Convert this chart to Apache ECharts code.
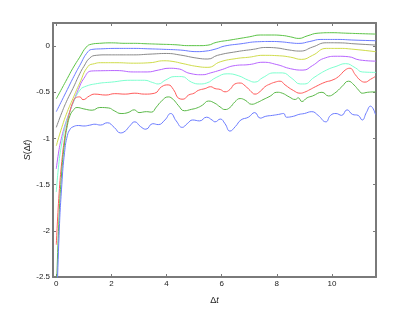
<!DOCTYPE html>
<html><head><meta charset="utf-8">
<script src="https://cdn.jsdelivr.net/npm/echarts@6/dist/echarts.min.js"></script>
<style>html,body{margin:0;padding:0;background:#fff}#c{width:415px;height:312px}</style>
</head><body><div id="c"></div>
<script>
const xTicks = [0, 2, 4, 6, 8, 10];
const yTicks = [-2.5, -2, -1.5, -1, -0.5, 0];

const green1 = [[0,-0.57],[0.2,-0.46],[0.4,-0.35],[0.6,-0.24],[0.85,-0.12],[1.09,-0.01],[1.27,0.02],[1.57,0.03],[2.0,0.035],[2.5,0.03],[2.8,0.03],[3.3,0.025],[3.8,0.02],[4.3,0.015],[4.8,0.005],[5.2,0.005],[5.5,0.01],[5.8,0.04],[6.3,0.065],[6.7,0.085],[7.0,0.10],[7.4,0.12],[7.8,0.12],[8.2,0.115],[8.5,0.10],[8.8,0.083],[9.1,0.11],[9.5,0.14],[10.0,0.145],[10.5,0.14],[11.0,0.135],[11.6,0.13]];
const blue1 = [[0,-0.71],[0.2,-0.59],[0.4,-0.47],[0.6,-0.35],[0.85,-0.21],[1.15,-0.06],[1.33,-0.035],[1.6,-0.03],[2.2,-0.025],[2.8,-0.025],[3.4,-0.03],[3.9,-0.035],[4.5,-0.043],[5.1,-0.06],[5.4,-0.055],[5.8,-0.03],[6.1,0.0],[6.7,0.025],[7.3,0.047],[7.8,0.05],[8.2,0.045],[8.5,0.035],[8.8,0.029],[9.2,0.05],[9.6,0.072],[10.2,0.072],[10.8,0.065],[11.6,0.058]];
const gray = [[0,-0.88],[0.2,-0.72],[0.4,-0.58],[0.6,-0.46],[0.85,-0.30],[1.0,-0.22],[1.21,-0.13],[1.45,-0.10],[1.8,-0.095],[2.3,-0.095],[2.8,-0.095],[3.4,-0.087],[4.0,-0.08],[4.5,-0.097],[5.1,-0.13],[5.5,-0.14],[5.85,-0.10],[6.55,-0.06],[7.15,-0.035],[7.6,-0.015],[8.0,-0.02],[8.4,-0.04],[8.85,-0.054],[9.3,-0.01],[9.8,0.036],[10.3,0.035],[10.8,0.025],[11.6,0.011]];
const yellow = [[0,-1.08],[0.2,-0.88],[0.4,-0.71],[0.6,-0.57],[0.85,-0.40],[1.15,-0.22],[1.39,-0.19],[1.6,-0.18],[2.2,-0.18],[2.8,-0.185],[3.4,-0.18],[3.9,-0.159],[4.2,-0.165],[4.6,-0.19],[5.1,-0.22],[5.5,-0.23],[5.95,-0.17],[6.55,-0.134],[7.0,-0.12],[7.5,-0.10],[8.1,-0.105],[8.5,-0.12],[8.9,-0.144],[9.3,-0.10],[9.8,-0.025],[10.3,-0.025],[10.8,-0.035],[11.6,-0.061]];
const purple = [[0,-1.33],[0.1,-1.12],[0.2,-0.98],[0.3,-0.87],[0.4,-0.78],[0.5,-0.70],[0.6,-0.62],[0.8,-0.47],[1.0,-0.35],[1.27,-0.27],[1.6,-0.267],[2.2,-0.265],[2.8,-0.28],[3.3,-0.28],[3.7,-0.26],[4.1,-0.24],[4.4,-0.245],[4.85,-0.296],[5.3,-0.31],[5.6,-0.29],[5.95,-0.26],[6.5,-0.21],[7.0,-0.2],[7.5,-0.175],[8.0,-0.2],[8.5,-0.245],[8.95,-0.26],[9.3,-0.21],[9.7,-0.134],[10.2,-0.11],[10.6,-0.115],[11.0,-0.15],[11.6,-0.163]];
const cyan = [[0,-1.58],[0.1,-1.25],[0.2,-1.05],[0.3,-0.90],[0.4,-0.79],[0.5,-0.70],[0.6,-0.62],[0.85,-0.48],[1.03,-0.44],[1.5,-0.405],[2.0,-0.39],[2.7,-0.37],[3.2,-0.37],[3.5,-0.395],[3.7,-0.41],[3.95,-0.37],[4.3,-0.33],[4.55,-0.33],[4.9,-0.39],[5.2,-0.41],[5.45,-0.40],[5.8,-0.34],[6.2,-0.30],[6.6,-0.32],[6.97,-0.37],[7.2,-0.39],[7.5,-0.34],[7.9,-0.29],[8.2,-0.29],[8.55,-0.35],[8.85,-0.41],[9.0,-0.41],[9.35,-0.34],[9.8,-0.26],[10.15,-0.22],[10.5,-0.19],[10.85,-0.235],[11.1,-0.28],[11.6,-0.285]];
const red = [[0,-2.15],[0.1,-1.6],[0.2,-1.25],[0.3,-1.0],[0.4,-0.83],[0.5,-0.7],[0.6,-0.61],[0.7,-0.56],[0.85,-0.55],[0.97,-0.58],[1.2,-0.54],[1.39,-0.52],[1.8,-0.53],[2.12,-0.515],[2.5,-0.52],[2.85,-0.51],[3.2,-0.52],[3.57,-0.51],[3.82,-0.44],[4.06,-0.42],[4.25,-0.47],[4.45,-0.567],[4.6,-0.575],[4.8,-0.53],[5.0,-0.51],[5.15,-0.48],[5.4,-0.46],[5.6,-0.44],[5.76,-0.46],[5.95,-0.47],[6.12,-0.495],[6.3,-0.47],[6.48,-0.41],[6.67,-0.40],[6.85,-0.43],[7.03,-0.48],[7.21,-0.52],[7.4,-0.49],[7.57,-0.44],[7.76,-0.41],[7.94,-0.39],[8.12,-0.38],[8.3,-0.42],[8.6,-0.48],[8.85,-0.51],[9.0,-0.50],[9.21,-0.47],[9.4,-0.44],[9.76,-0.39],[10.0,-0.37],[10.24,-0.33],[10.48,-0.26],[10.65,-0.24],[10.85,-0.31],[11.03,-0.37],[11.2,-0.39],[11.4,-0.36],[11.57,-0.33]];
const green2 = [[0,-2.7],[0.1,-1.85],[0.2,-1.35],[0.3,-1.05],[0.4,-0.86],[0.5,-0.75],[0.6,-0.70],[0.75,-0.665],[1.0,-0.68],[1.3,-0.694],[1.58,-0.665],[1.9,-0.67],[2.1,-0.70],[2.35,-0.73],[2.6,-0.72],[2.83,-0.69],[3.0,-0.72],[3.27,-0.71],[3.45,-0.715],[3.63,-0.66],[3.82,-0.595],[4.06,-0.55],[4.25,-0.58],[4.42,-0.64],[4.65,-0.70],[4.9,-0.685],[5.1,-0.67],[5.3,-0.64],[5.52,-0.595],[5.76,-0.62],[5.94,-0.658],[6.12,-0.687],[6.3,-0.665],[6.48,-0.604],[6.67,-0.568],[6.85,-0.585],[7.09,-0.63],[7.3,-0.61],[7.5,-0.58],[7.76,-0.542],[8.0,-0.50],[8.2,-0.51],[8.45,-0.55],[8.67,-0.578],[8.78,-0.56],[8.91,-0.60],[9.1,-0.56],[9.3,-0.54],[9.64,-0.50],[9.88,-0.54],[10.1,-0.51],[10.36,-0.44],[10.6,-0.38],[10.8,-0.42],[10.97,-0.477],[11.1,-0.51],[11.3,-0.50],[11.6,-0.495]];
const blue2 = [[0,-3.0],[0.1,-2.05],[0.2,-1.5],[0.3,-1.15],[0.4,-0.97],[0.5,-0.9],[0.6,-0.875],[0.8,-0.86],[1.0,-0.865],[1.2,-0.857],[1.4,-0.846],[1.6,-0.855],[1.85,-0.83],[2.1,-0.88],[2.33,-0.94],[2.5,-0.92],[2.65,-0.87],[2.85,-0.82],[3.05,-0.87],[3.25,-0.90],[3.5,-0.84],[3.7,-0.85],[3.94,-0.80],[4.15,-0.73],[4.35,-0.81],[4.57,-0.88],[4.75,-0.84],[4.95,-0.80],[5.2,-0.81],[5.45,-0.77],[5.65,-0.80],[5.76,-0.82],[5.95,-0.79],[6.12,-0.84],[6.3,-0.92],[6.5,-0.87],[6.7,-0.80],[6.97,-0.77],[7.2,-0.72],[7.4,-0.78],[7.6,-0.76],[7.85,-0.75],[8.06,-0.74],[8.25,-0.73],[8.35,-0.77],[8.6,-0.76],[8.8,-0.74],[9.0,-0.73],[9.27,-0.71],[9.5,-0.75],[9.78,-0.82],[9.95,-0.75],[10.15,-0.73],[10.35,-0.75],[10.55,-0.69],[10.75,-0.74],[10.95,-0.75],[11.1,-0.80],[11.25,-0.72],[11.4,-0.65],[11.58,-0.74]];

const seriesData = [green1, blue1, gray, yellow, purple, cyan, red, green2, blue2];
const seriesColors = ['#5cc447', '#6b7bff', '#8a8a8a', '#cfdc4a', '#b865ff', '#7dffcf', '#ff5a5a', '#5ab848', '#6b7bff'];

const axisCol = '#7a7a7a';
const font = 'Liberation Sans, Arial, sans-serif';
const chart = echarts.init(document.getElementById('c'), null, {renderer: 'canvas'});
const nameRich = {
  i: {fontFamily: font, fontSize: 9, color: '#222', fontStyle: 'italic'},
  n: {fontFamily: font, fontSize: 9, color: '#222'}
};
const xBase = {type: 'value', min: -0.12, max: 11.6, splitLine: {show: false},
  axisLine: {onZero: false, lineStyle: {color: axisCol, width: 2}},
  axisTick: {inside: true, length: 3, lineStyle: {color: axisCol}, customValues: xTicks}};
const yBase = {type: 'value', min: -2.5, max: 0.25, splitLine: {show: false},
  axisLine: {onZero: false, lineStyle: {color: axisCol, width: 2}},
  axisTick: {inside: true, length: 3, lineStyle: {color: axisCol}, customValues: yTicks}};
chart.setOption({
  animation: false,
  backgroundColor: '#fff',
  grid: {left: 53, top: 23, right: 39, bottom: 35, containLabel: false},
  xAxis: [
    Object.assign({}, xBase, {position: 'bottom', name: '{n|Δ}{i|t}', nameLocation: 'middle', nameGap: 19,
      nameMoveOverlap: false,
      nameTextStyle: {fontFamily: font, fontSize: 9, color: '#222', rich: nameRich},
      axisLabel: {customValues: xTicks, fontFamily: font, fontSize: 8, color: '#222', margin: 3}}),
    Object.assign({}, xBase, {position: 'top', axisLabel: {show: false}})
  ],
  yAxis: [
    Object.assign({}, yBase, {position: 'left', name: '{i|S}{n|(Δ}{i|t}{n|)}', nameLocation: 'middle', nameGap: 21,
      nameMoveOverlap: false,
      nameTextStyle: {fontFamily: font, fontSize: 9, color: '#222', rich: nameRich},
      axisLabel: {customValues: yTicks, fontFamily: font, fontSize: 8, color: '#222', margin: 3}}),
    Object.assign({}, yBase, {position: 'right', axisLabel: {show: false}})
  ],
  series: seriesData.map((d, i) => ({
    type: 'line', data: d, xAxisIndex: 0, yAxisIndex: 0, showSymbol: false,
    smooth: 0.5, clip: true,
    lineStyle: {width: 1, color: seriesColors[i]}, itemStyle: {color: seriesColors[i]}
  }))
});
</script></body></html>
